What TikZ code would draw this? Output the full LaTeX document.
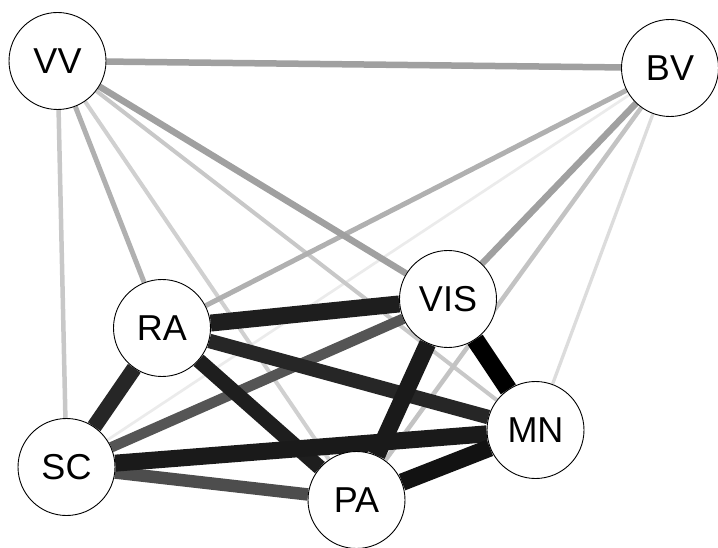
\documentclass[tikz,border=0pt]{standalone}
\usepackage{fontspec}
\setmainfont{Liberation Sans}
\usetikzlibrary{backgrounds}
\definecolor{gA}{HTML}{A0A0A0}
\definecolor{gB}{HTML}{B0B0B0}
\definecolor{gC}{HTML}{C8C8C8}
\definecolor{gD}{HTML}{D0D0D0}
\definecolor{gE}{HTML}{DCDCDC}
\definecolor{gF}{HTML}{EBEBEB}
\definecolor{gG}{HTML}{C3C3C3}
\definecolor{dA}{HTML}{1E1E1E}
\definecolor{dB}{HTML}{262626}
\definecolor{dC}{HTML}{555555}
\definecolor{dD}{HTML}{4D4D4D}
\definecolor{dE}{HTML}{1A1A1A}
\definecolor{dF}{HTML}{121212}
\tikzset{
  vnode/.style={circle, draw=black, line width=0.9pt, fill=white, minimum size=97pt, inner sep=0pt, font=\fontsize{36}{36}\selectfont},
  edge/.style={line cap=butt}
}
\begin{document}
\begin{tikzpicture}[x=1pt,y=-1pt]
\useasboundingbox (0,0) rectangle (718,548);
\node[vnode] (VV)  at (57.5,61)  {VV};
\node[vnode] (BV)  at (670,68)   {BV};
\node[vnode] (RA)  at (162,328)  {RA};
\node[vnode] (VIS) at (448,299)  {VIS};
\node[vnode] (SC)  at (66.5,467) {SC};
\node[vnode] (MN)  at (535.5,430) {MN};
\node[vnode] (PA)  at (356.5,500) {PA};
\begin{scope}[on background layer]
\draw[edge, gF, line width=2.7pt] (BV) -- (SC);
\draw[edge, gE, line width=3.3pt] (BV) -- (MN);
\draw[edge, gD, line width=4pt]   (VV) -- (PA);
\draw[edge, gC, line width=4pt]   (VV) -- (MN);
\draw[edge, gC, line width=4.5pt] (VV) -- (SC);
\draw[edge, gG, line width=4.5pt] (BV) -- (PA);
\draw[edge, gB, line width=5pt]   (VV) -- (RA);
\draw[edge, gB, line width=5pt]   (BV) -- (RA);
\draw[edge, gA, line width=6.5pt] (VV) -- (BV);
\draw[edge, gA, line width=6.5pt] (VV) -- (VIS);
\draw[edge, gA, line width=6.5pt] (BV) -- (VIS);
\draw[edge, dC, line width=10.5pt] (SC) -- (VIS);
\draw[edge, dD, line width=12.5pt] (SC) -- (PA);
\draw[edge, dB, line width=14.5pt] (RA) -- (MN);
\draw[edge, dA, line width=15pt]  (RA) -- (PA);
\draw[edge, dB, line width=15.5pt] (RA) -- (SC);
\draw[edge, dA, line width=17pt]  (RA) -- (VIS);
\draw[edge, dE, line width=17pt]  (SC) -- (MN);
\draw[edge, dE, line width=17pt]  (VIS) -- (PA);
\draw[edge, dF, line width=17.5pt] (MN) -- (PA);
\draw[edge, black, line width=18pt] (VIS) -- (MN);
\end{scope}
\end{tikzpicture}
\end{document}
